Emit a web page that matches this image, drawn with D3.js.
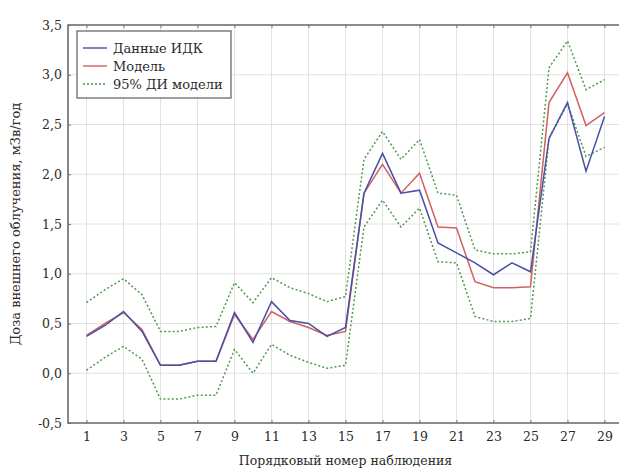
<!DOCTYPE html>
<html><head><meta charset="utf-8">
<script src="https://cdn.jsdelivr.net/npm/d3@7"></script>
<style>body{margin:0;background:#fff}svg{display:block}svg text{font-family:"DejaVu Serif","Liberation Serif","Noto Serif",Tinos,FreeSerif,"Times New Roman",serif !important;fill:#2a2a2a}</style>
</head><body>
<svg id="c" width="619" height="472"></svg>
<script>
const obs = d3.range(1, 30);
const dataIDK = [0.37,0.48,0.62,0.42,0.08,0.08,0.12,0.12,0.61,0.31,0.72,0.53,0.50,0.37,0.46,1.81,2.21,1.81,1.84,1.31,1.21,1.11,0.99,1.11,1.02,2.36,2.72,2.03,2.58];
const model   = [0.38,0.50,0.61,0.44,0.08,0.08,0.12,0.12,0.59,0.34,0.62,0.52,0.46,0.38,0.42,1.81,2.10,1.81,2.01,1.47,1.46,0.92,0.86,0.86,0.87,2.72,3.02,2.49,2.62];
const ciUpper = [0.71,0.84,0.95,0.79,0.42,0.42,0.46,0.47,0.91,0.71,0.96,0.86,0.80,0.72,0.77,2.15,2.43,2.15,2.35,1.81,1.79,1.24,1.20,1.20,1.22,3.07,3.34,2.85,2.95];
const ciLower = [0.03,0.16,0.27,0.14,-0.26,-0.26,-0.22,-0.22,0.24,0.00,0.29,0.18,0.11,0.05,0.08,1.47,1.74,1.47,1.66,1.12,1.11,0.57,0.52,0.52,0.55,2.36,2.71,2.18,2.27];
const xTicks = d3.range(1, 30, 2);
const yTicks = [-0.5,0,0.5,1,1.5,2,2.5,3,3.5];
const legendLabels = ["Данные ИДК","Модель","95% ДИ модели"];

const svg = d3.select("#c");
const L = 68, R = 623, T = 25, B = 423;
const x = d3.scaleLinear().domain([0, 30]).range([L, R]);
const y = d3.scaleLinear().domain([-0.5, 3.5]).range([B, T]);
const fmt = d => d3.format(".1f")(d).replace(".", ",").replace("−","-");

// grid
svg.append("g").selectAll("line").data(xTicks).join("line")
  .attr("x1", d => x(d)).attr("x2", d => x(d)).attr("y1", T).attr("y2", B)
  .attr("stroke", "#e2e2e2").attr("stroke-width", 1);
svg.append("g").selectAll("line").data(yTicks).join("line")
  .attr("x1", L).attr("x2", R).attr("y1", d => y(d)).attr("y2", d => y(d))
  .attr("stroke", "#e2e2e2").attr("stroke-width", 1);

// axes
const ax = (g, axis) => { g.call(axis); g.select(".domain").remove(); g.selectAll(".tick line").attr("stroke","#777"); g.selectAll("text").attr("font-size", 12.5).attr("fill","#2a2a2a"); };
svg.append("g").attr("transform", `translate(0,${B})`)
  .call(g => ax(g, d3.axisBottom(x).tickValues(xTicks).tickSizeInner(-3).tickSizeOuter(0).tickPadding(9)));
svg.append("g").attr("transform", `translate(0,${T})`)
  .call(g => { ax(g, d3.axisTop(x).tickValues(xTicks).tickSizeInner(-3).tickSizeOuter(0)); g.selectAll("text").remove(); });
svg.append("g").attr("transform", `translate(${L},0)`)
  .call(g => ax(g, d3.axisLeft(y).tickValues(yTicks).tickFormat(fmt).tickSizeInner(-3).tickSizeOuter(0).tickPadding(6)));

// frame
svg.append("path").attr("d", `M${R},${T}H${L}V${B}H${R}`).attr("fill","none").attr("stroke","#6a6a6a").attr("stroke-width",1.6);

// lines
const line = arr => d3.line().x((d,i) => x(obs[i])).y(d => y(d))(arr);
const green = "#4f9a4f", blue = "#4a4fa6", red = "#d0625e";
svg.append("path").attr("d", line(ciUpper)).attr("fill","none").attr("stroke",green).attr("stroke-width",1.5).attr("stroke-dasharray","2,2.2");
svg.append("path").attr("d", line(ciLower)).attr("fill","none").attr("stroke",green).attr("stroke-width",1.5).attr("stroke-dasharray","2,2.2");
svg.append("path").attr("d", line(model)).attr("fill","none").attr("stroke",red).attr("stroke-width",1.5);
svg.append("path").attr("d", line(dataIDK)).attr("fill","none").attr("stroke",blue).attr("stroke-width",1.5);

// legend
const lg = svg.append("g");
lg.append("rect").attr("x",77).attr("y",31).attr("width",154).attr("height",67).attr("fill","#fff").attr("stroke","#6a6a6a").attr("stroke-width",1.3);
const styles = [{c:blue,d:null},{c:red,d:null},{c:green,d:"2,2"}];
legendLabels.forEach((t,i) => {
  const yy = 48 + i*18;
  lg.append("line").attr("x1",83).attr("x2",107).attr("y1",yy).attr("y2",yy).attr("stroke",styles[i].c).attr("stroke-width",1.4).attr("stroke-dasharray",styles[i].d);
  lg.append("text").attr("x",113).attr("y",yy+4.5).attr("font-size",13).text(t);
});

// titles
svg.append("text").attr("x", (L+R)/2).attr("y", 465).attr("text-anchor","middle").attr("font-size",12.5).text("Порядковый номер наблюдения");
svg.append("text").attr("transform",`translate(20,${(T+B)/2}) rotate(-90)`).attr("text-anchor","middle").attr("font-size",13).text("Доза внешнего облучения, мЗв/год");
</script>
</body></html>
